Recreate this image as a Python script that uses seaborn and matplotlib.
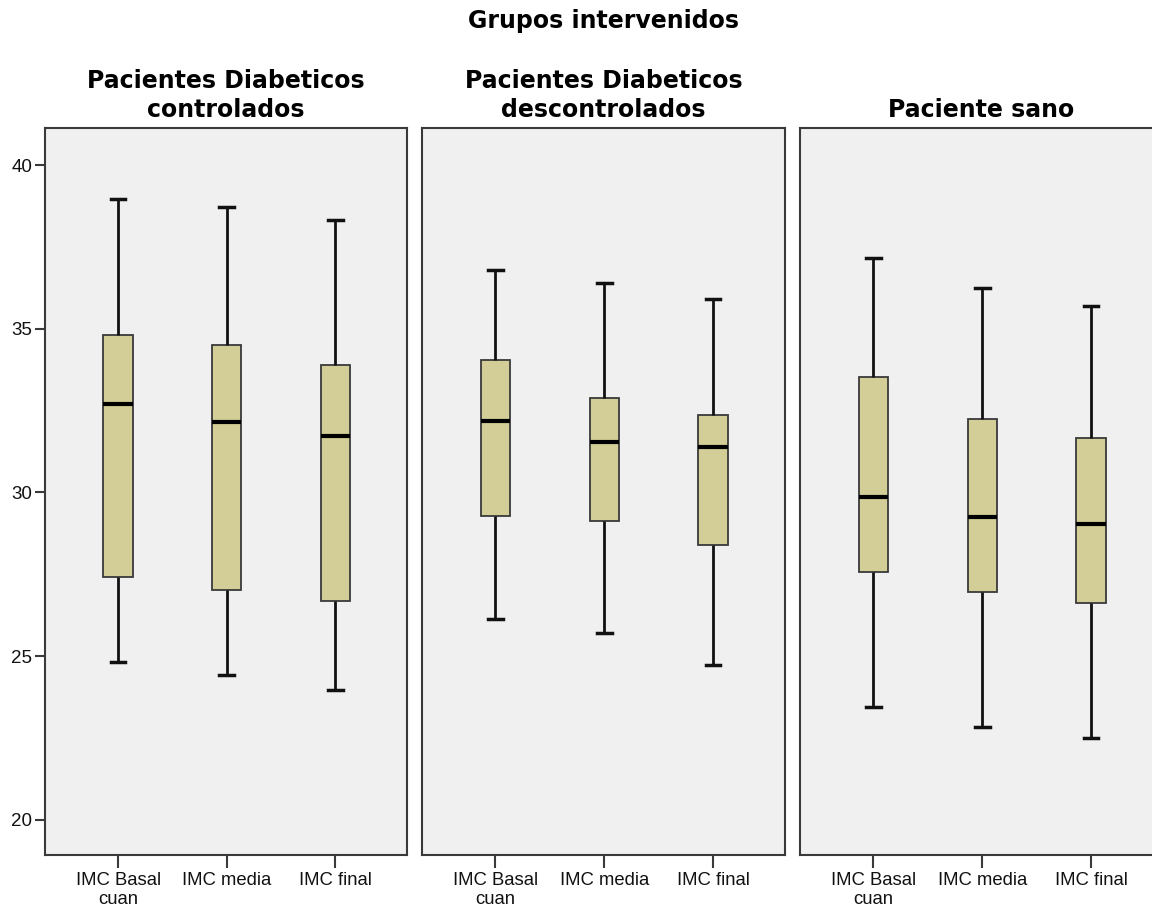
import numpy as np
import pandas as pd
import matplotlib
matplotlib.use("Agg")
import matplotlib.pyplot as plt
import seaborn as sns

# ---- data ----
groups = ["Pacientes Diabeticos\ncontrolados",
          "Pacientes Diabeticos\ndescontrolados",
          "Paciente sano"]
variables = ["IMC Basal\ncuan", "IMC media", "IMC final"]

whisker_low = [[24.82, 24.43, 23.97],
               [26.14, 25.71, 24.73],
               [23.45, 22.84, 22.50]]
quartile_1 = [[27.42, 27.02, 26.69],
              [29.28, 29.13, 28.40],
              [27.57, 26.96, 26.63]]
medians = [[32.70, 32.15, 31.73],
           [32.18, 31.54, 31.39],
           [29.86, 29.25, 29.04]]
quartile_3 = [[34.81, 34.50, 33.89],
              [34.05, 32.89, 32.37],
              [33.53, 32.24, 31.66]]
whisker_high = [[38.96, 38.72, 38.32],
                [36.79, 36.40, 35.91],
                [37.16, 36.24, 35.69]]

y_ticks = [20, 25, 30, 35, 40]
suptitle = "Grupos intervenidos"

# ---- build long-form table: 5 points per box reproduce the 5-number summary ----
rows = []
for gi, g in enumerate(groups):
    for vi, v in enumerate(variables):
        for val in (whisker_low[gi][vi], quartile_1[gi][vi], medians[gi][vi],
                    quartile_3[gi][vi], whisker_high[gi][vi]):
            rows.append({"grupo": g, "variable": v, "IMC": val})
df = pd.DataFrame(rows)

plt.rcParams["font.family"] = ["Liberation Sans", "DejaVu Sans"]

W, H = 1152, 913
fig = plt.figure(figsize=(W / 100, H / 100), dpi=100)
fig.patch.set_facecolor("white")

panel_px = [(45, 407), (422, 785), (800, 1163)]
top_px, bot_px = 128, 855
box_color = "#D3CE97"
panel_bg = "#F0F0F0"
spine_color = "#3A3A3A"

axes = []
for gi, (g, (l, r)) in enumerate(zip(groups, panel_px)):
    ax = fig.add_axes([l / W, (H - bot_px) / H, (r - l) / W, (bot_px - top_px) / H])
    axes.append(ax)
    ax.set_facecolor(panel_bg)
    sub = df[df["grupo"] == g]
    sns.boxplot(data=sub, x="variable", y="IMC", order=variables, ax=ax,
                color=box_color, saturation=1, width=0.27, whis=(0, 100),
                linecolor="#222222", linewidth=1.0, showfliers=False,
                boxprops=dict(edgecolor="#3a3a3a", linewidth=1.3),
                medianprops=dict(color="black", linewidth=3.0),
                whiskerprops=dict(color="#111111", linewidth=2.0),
                capprops=dict(color="#111111", linewidth=2.5))
    ax.set_xlim(-0.673, 2.66)
    ax.set_ylim(18.93, 41.13)
    ax.set_xlabel("")
    ax.set_ylabel("")
    for s in ax.spines.values():
        s.set_color(spine_color)
        s.set_linewidth(1.5)
    ax.tick_params(axis="x", length=9, width=1.5, color=spine_color,
                   labelsize=13.3, pad=3, labelcolor="#111111")
    for t in ax.get_xticklabels():
        t.set_linespacing(1.15)
    if gi == 0:
        ax.set_yticks(y_ticks)
        ax.set_yticklabels([str(t) for t in y_ticks])
        ax.tick_params(axis="y", length=7, width=1.5, color=spine_color,
                       labelsize=13.5, pad=2, labelcolor="#111111")
    else:
        ax.set_yticks([])
    ax.set_title(g, fontsize=17, fontweight="bold", family="DejaVu Sans",
                 pad=8, linespacing=1.28)

# suptitle centred on middle panel
mid = (panel_px[1][0] + panel_px[1][1]) / 2 / W
fig.text(mid, 1 - 21 / H, suptitle, ha="center", va="center",
         fontsize=17, fontweight="bold", family="DejaVu Sans")

fig.savefig("out.png", dpi=100, facecolor="white")
